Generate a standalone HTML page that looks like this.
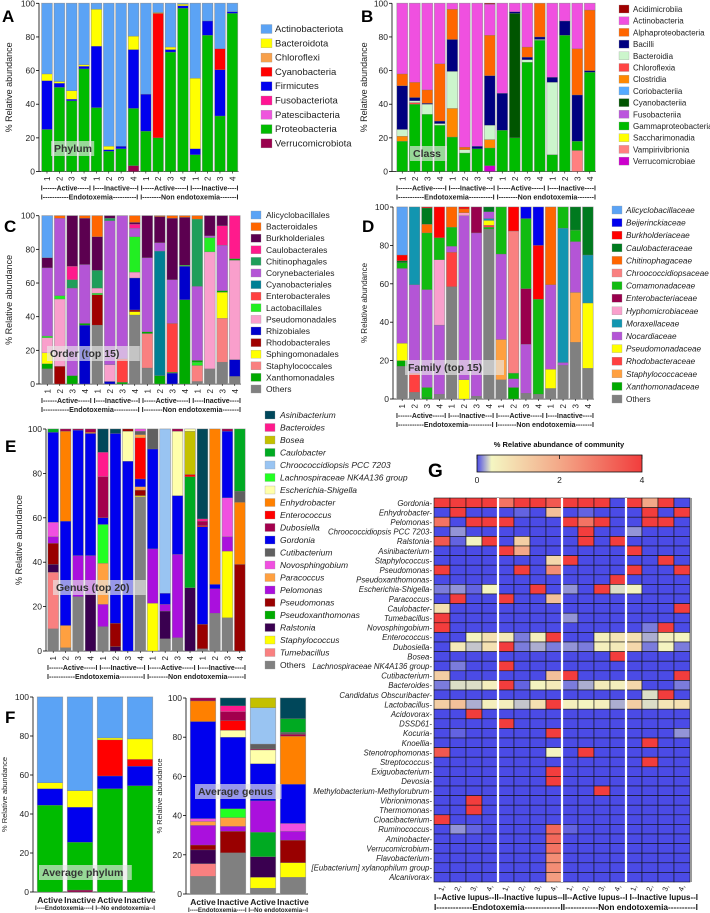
<!DOCTYPE html>
<html><head><meta charset="utf-8"><style>
html,body{margin:0;padding:0;background:#fff;}
svg{display:block;font-family:"Liberation Sans",Arial,sans-serif;}
</style></head><body>
<svg id="fig" width="710" height="913" viewBox="0 0 710 913" xmlns="http://www.w3.org/2000/svg"></svg>
<script>
// ---------- DATA ----------
const phylumNames=["Actinobacteriota","Bacteroidota","Chloroflexi","Cyanobacteria","Firmicutes","Fusobacteriota","Patescibacteria","Proteobacteria","Verrucomicrobiota"];
const phylumColors=["#5ba3f5","#ffff00","#f7a04b","#ff0000","#0000ee","#ff1493","#ee55dd","#00bb00","#99004d"];
const phylumBars=[
[[7,25],[4,29],[1,4],[0,42]],[[7,50],[4,2.5],[1,1],[0,46.5]],[[7,42],[4,1],[1,5],[0,52]],[[7,61],[4,1.5],[1,1],[0,36.5]],
[[7,38],[4,36.5],[1,22],[0,3.5]],[[7,12],[4,1],[1,2],[0,85]],[[7,13.5],[4,1.5],[0,85]],[[8,3.5],[7,34],[4,35],[1,8],[0,19.5]],
[[7,24],[4,22],[0,54]],[[7,20],[3,74],[1,0.5],[0,5.5]],[[7,71],[4,1.5],[1,1.5],[0,26]],[[7,97],[4,1.5],[1,1],[0,0.5]],
[[7,10],[4,3.5],[1,42],[0,44.5]],[[7,81],[4,8.5],[0,10.5]],[[7,33],[4,27.5],[3,12.5],[0,27]],[[7,94],[4,1],[0,5]]];
const classNames=["Acidimicrobiia","Actinobacteria","Alphaproteobacteria","Bacilli","Bacteroidia","Chloroflexia","Clostridia","Coriobacteriia","Cyanobacteriia","Fusobacteriia","Gammaproteobacteria","Saccharimonadia","Vampirivibrionia","Verrucomicrobiae"];
const classColors=["#a00000","#f050e0","#ff6600","#000080","#ccf5cc","#ff4444","#ff8800","#55aaff","#005500","#bb55dd","#00bb00","#ffff00","#ff8080","#cc00cc"];
const classBars=[
[[10,18],[6,3],[4,4],[3,26],[2,7],[1,42]],[[10,40],[5,1],[4,1],[3,2],[2,9],[1,47]],[[10,34],[4,6],[3,0.5],[2,8],[1,51.5]],[[10,27.5],[4,1],[3,1.5],[2,34],[1,36]],
[[10,20.5],[6,17],[4,22],[3,19],[2,18],[1,3.5]],[[10,11],[4,2],[2,1.5],[1,85.5]],[[10,13.5],[3,1.5],[1,85]],[[13,3.5],[10,10.5],[6,5],[4,8.5],[3,29.5],[2,24],[1,18.5],[0,0.5]],
[[10,24.5],[3,22],[1,53.5]],[[10,20],[8,74],[3,1],[1,5]],[[10,65],[4,1.5],[3,1.5],[2,6],[1,26]],[[10,78],[4,0.5],[3,1.5],[2,20]],
[[10,10],[4,43],[3,3],[1,44]],[[10,81],[3,8.5],[1,10.5]],[[12,12.5],[10,5.5],[3,27.5],[2,27.5],[1,27]],[[10,59],[3,1],[2,36],[1,4]]];
const orderNames=["Alicyclobacillales","Bacteroidales","Burkholderiales","Caulobacterales","Chitinophagales","Corynebacteriales","Cyanobacteriales","Enterobacterales","Lactobacillales","Pseudomonadales","Rhizobiales","Rhodobacterales","Sphingomonadales","Staphylococcales","Xanthomonadales","Others"];
const orderColors=["#5ba3f5","#ff6600","#5c0050","#ff1a8c","#1f9e5a","#b455d6","#007f94","#ff4040","#22ee22","#f99fcc","#0000cc","#a00000","#ffff00","#f98080","#00aa00","#808080"];
const orderBars=[
[[15,9],[14,3],[12,6.5],[9,9],[8,1],[5,40.5],[2,6],[0,25]],[[11,10.5],[9,40],[8,2],[5,46],[1,1.5]],[[14,5],[5,52],[4,5],[3,8],[2,30]],[[10,35],[14,1],[5,35],[2,27.5],[1,1.5]],
[[15,35],[11,18],[8,1],[9,3],[4,10.5],[2,20],[1,12.5]],[[10,1.5],[9,10],[5,85.5],[4,1.5],[2,1.5]],[[14,1],[7,14],[5,85]],[[15,41],[12,2],[11,1],[10,19],[9,3.5],[8,21],[5,5],[3,2.5],[2,1],[1,4]],
[[15,9.5],[13,20.5],[14,1],[5,44],[2,25]],[[14,5],[6,74],[5,5],[2,15.5],[1,0.5]],[[10,6.5],[14,0.5],[7,29],[5,26],[2,36.5],[1,1.5]],[[14,50],[10,20],[8,0.5],[2,28.5],[1,1]],
[[15,1.5],[13,9.5],[8,2],[14,1],[5,44],[4,40],[1,2]],[[15,9],[9,69.5],[8,8.5],[5,1],[2,12]],[[15,13],[13,26],[12,15.5],[14,1],[5,27],[3,11.5],[2,6]],[[15,4.5],[10,10],[9,59],[14,1],[3,25.5]]];
const familyNames=["Alicyclobacillaceae","Beijerinckiaceae","Burkholderiaceae","Caulobacteraceae","Chitinophagaceae","Chroococcidiopsaceae","Comamonadaceae","Enterobacteriaceae","Hyphomicrobiaceae","Moraxellaceae","Nocardiaceae","Pseudomonadaceae","Rhodobacteraceae","Staphylococcaceae","Xanthomonadaceae","Others"];
const familyColors=["#5ba3f5","#0000ee","#ff0000","#007a1f","#ff6600","#f98080","#11bb11","#99004d","#f99fcc","#1295b0","#b455d6","#ffff00","#ff4040","#ffa040","#00aa00","#808080"];
const familyBars=[
[[15,17],[14,3],[11,9],[10,39],[6,3],[3,1],[2,3],[0,25]],[[15,3.5],[12,10],[10,46],[9,40.5]],[[14,1],[6,5],[10,51],[6,29.5],[4,4.5],[3,8.5],[2,0.5]],[[15,2.5],[10,36],[8,34],[6,11.5],[2,16]],
[[15,58.5],[12,18],[10,3],[6,10],[4,10.5]],[[11,10],[10,85.5],[8,1.5],[4,2],[2,1]],[[15,1.5],[10,85],[7,13.5]],[[15,88.5],[6,1],[12,1],[11,2.5],[9,1],[10,3.5],[3,2.5]],
[[15,10],[13,21],[10,44.5],[6,24.5]],[[14,6],[10,4.5],[6,3],[5,74],[2,12.5]],[[15,3],[10,25.5],[7,29],[6,36.5],[1,6]],[[15,2.5],[6,49.5],[2,28],[1,20]],
[[15,5.5],[11,10],[10,44],[4,40.5]],[[15,17.5],[10,1.5],[9,70],[6,11]],[[15,29.5],[13,26],[10,26.5],[6,6],[3,12]],[[15,16],[11,34],[9,25],[3,25]]];
const genusNames=["Asinibacterium","Bacteroides","Bosea","Caulobacter","Chroococcidiopsis PCC 7203","Lachnospiraceae NK4A136 group","Escherichia-Shigella","Enhydrobacter","Enterococcus","Dubosiella","Gordonia","Cutibacterium","Novosphingobium","Paracoccus","Pelomonas","Pseudomonas","Pseudoxanthomonas","Ralstonia","Staphylococcus","Tumebacillus","Others"];
const genusColors=["#00475a","#ff1a8c","#c4c000","#00aa22","#99c4f2","#22ff22","#ffffaa","#ff8000","#ff0000","#a3004d","#0000ee","#606060","#f050e0","#ffa040","#aa10dd","#990000","#00aa00","#3a0050","#ffff00","#f98080","#808080"];
const genusBars=[
[[20,10],[19,25.5],[17,3.5],[15,9.5],[14,3],[12,6.5],[10,40.5],[3,1.5]],[[20,1.5],[13,10],[10,47],[7,40.5],[9,1]],[[20,24.5],[14,18.5],[10,56.5],[9,0.5]],[[17,25.5],[14,17.5],[10,55],[7,0.5],[9,1.5]],
[[20,11],[14,10],[13,18.5],[5,17.5],[10,3],[9,18.5],[1,11],[0,10.5]],[[17,2],[15,10.5],[10,85.5],[0,2]],[[10,85.5],[6,13.5],[15,1]],[[20,69.5],[18,0.5],[15,2.5],[13,1.5],[10,3.5],[8,18.5],[13,1.5],[11,1.5],[12,1]],
[[18,21.5],[14,24.5],[10,45],[11,9]],[[20,5.5],[17,12.5],[14,3],[10,5],[4,74]],[[20,6],[14,37.5],[10,26.5],[6,29],[9,1]],[[17,28.5],[3,50],[8,1],[2,19.5],[6,1]],
[[20,1],[15,11],[10,44],[8,0.5],[9,2],[1,1],[0,40.5]],[[20,17],[14,11],[10,2],[7,70]],[[20,15],[18,30],[14,6.5],[12,17.5],[10,30],[9,1]],[[15,39],[7,28],[11,5],[3,28]]];
const avgPhylumBars=[[[7,44.5],[4,8.5],[1,3],[0,44]],[[8,1],[7,24.5],[4,18],[1,8.5],[0,48]],[[7,53],[4,6.5],[3,18.5],[1,1],[0,21]],[[7,54.5],[4,10],[3,3.5],[1,10.5],[0,21.5]]];
const avgGenusBars=[
[[20,9],[19,6.5],[17,7],[15,2.5],[14,10],[13,2],[12,1.5],[10,49.5],[7,10.5],[9,1.5]],
[[20,21],[15,11],[14,2.5],[13,4.5],[5,4.5],[10,36.5],[6,3.5],[8,5],[9,4.5],[1,3],[0,4]],
[[20,3],[18,5.5],[17,10.5],[3,12.5],[14,16],[10,19],[6,7],[9,0.5],[11,2.5],[4,18.5],[2,5]],
[[20,8.5],[18,7.5],[15,11.5],[14,4.5],[12,4],[10,20],[7,24.5],[9,1],[11,1],[3,7],[0,10.5]]];
const tickLabels=[0,20,40,60,80,100];
const hmRows=["Gordonia","Enhydrobacter","Pelomonas","Chroococcidiopsis PCC 7203","Ralstonia","Asinibacterium","Staphylococcus","Pseudomonas","Pseudoxanthomonas","Escherichia-Shigella","Paracoccus","Caulobacter","Tumebacillus","Novosphingobium","Enterococcus","Dubosiella","Bosea","Lachnospiraceae NK4A136 group","Cutibacterium","Bacteroides","Candidatus Obscuribacter","Lactobacillus","Acidovorax","DSSD61","Kocuria","Knoellia","Stenotrophomonas","Streptococcus","Exiguobacterium","Devosia","Methylobacterium-Methylorubrum","Vibrionimonas","Thermomonas","Cloacibacterium","Ruminococcus","Aminobacter","Verrucomicrobium","Flavobacterium","[Eubacterium] xylanophilum group","Alcanivorax"];
const hmValues=[
[4,4,4,4,3,4,4,3.5,4,4,4,0,4,2,4,0],
[0,4,0,0,0,0.05,0,1.5,0,0.05,0,0,0,4,0,4],
[3,0,4,4,4,0,0,0,4,3,4,0,0,4,4,0],
[0,0.15,0,0,0,0,0,0,0,4,0,0,0.15,0,0,0],
[3.5,0.05,0.4,4,0,1.2,0,0,0,4,0,4,0,0,0,0],
[0,0,0,0,4,2,0,0,0,0,0,0,4,0,0,0],
[0,0,0,0,0,0,0,1,4,0,0,0,0,0,4,0],
[4,0,0,0,0,4,0,2.5,0,0,0,0,4,0,0,4],
[0,0,0,0,0,0,0,0,0,0,0,4,0,0,0,0],
[0.1,0.15,0.05,0.4,0,0,4,0,0.15,0,4,0.3,0.4,0,0,0],
[0,4,0,0,4,0,0,1.5,0,0,0,0,0,0,0,0],
[0.8,0,0,0,0,0,0,0,0,0,0,0,0,0,0,4],
[4,0,0,0,0,0,0,0,0.15,0,0,0,0,0,0,0],
[4,0,0,0,0,0,0,0,0,0,0,0,0,0.1,4,0],
[0,0,0.4,0.8,0.6,0.1,0.5,4,0,0,0.5,0.7,0.8,0.2,0.5,0.4],
[0,0.6,0.25,0.8,4,0.1,0.2,0.1,0.15,0.1,0.5,0.6,1,0.1,0.4,0.1],
[0,0,0,0,0,0,0,0,0,0,0,4,0,0,0,0],
[0,0.1,0,0,4,0,0,0,0,0,0,0,0,0,0,0],
[1.2,0,0,0,0,0,0,1.5,4,0,0,0,0,0,0,4],
[0.1,0.3,0.3,0.5,4,0.05,0.4,0.6,0.1,0.2,0.6,0.5,1,0,0,0.1],
[0,0,0,0,0,0,0,0,0,0,0,0,0,0.3,4,0],
[1.2,1.5,0.2,0.5,0.5,0.25,0.8,4,0.5,0.4,0.5,0.2,1.2,0.3,0.7,0.8],
[0,0,4,0,0,0,0,0,0,0,0,0,0,0,0,0],
[0,0,0,0,4,0,0,0,0,0,0,0,0,0,0,0],
[0,0.05,0,0,0,0,0,4,0,0,0,0,0,0,0,0.15],
[0,0,0,0,0,0,0,0,0,0,0,0,0,4,0,0],
[3.5,0,0,0,0,0,0,0.4,0,4,0,0,0,0,0,0],
[0,0,0,0,0,0,0,0,0,0,0,0,0,4,0,0],
[0,0,0,0,0,0,0,4,0,0,0,0,0,0,0,0],
[0,0,0,0,0,0,0,4,0,0,0,0,0,0,0,0],
[0,0,0,0,0,0,0,0,0,0,4,0,0,0,0,0],
[0,0,4,0,0,0,0,0,0,0,0,0,0,0,0,0],
[0,0,4,0,0,0,0,0,0,0,0,0,0,0,0,0],
[4,0,0,0,0,0,0,0,0,0,0,0,0,0,0,0],
[0,0.15,0.05,0,0,0,0,3.2,0.05,0,0,0,0,0,0,0],
[0,0,0,0,0,0,0,3.2,0,0,0,0,0,0,0,0],
[0,0,0,0,0,0,0,3,0,0,0,0,0,0,0,0],
[0,0,0,0,0,0,0,2.5,0,0,0,0,0,0,0,0],
[0,0,0,0,0,0,0,2.5,0,0,0,0,0,0,0,0],
[0,0,0,0,0,0,0,2.2,0,0,0,0,0,0,0,0]];
const hmColLabels=["1,","2,","3,","4,","1,","2,","3,","4,","1,","2,","3,","4,","1,","2,","3,","4,"];
const cbTicks=[0,2,4];

// ---------- DRAW ----------
const NS="http://www.w3.org/2000/svg";
const svg=document.getElementById('fig');
function el(tag,attrs,parent,txt){const e=document.createElementNS(NS,tag);for(const k in attrs)e.setAttribute(k,attrs[k]);if(txt!==undefined)e.textContent=txt;(parent||svg).appendChild(e);return e;}

function panel(cfg){
  const g=el('g',{});
  
  
  const ys=v=>cfg.yb-(cfg.yb-cfg.yt)*v/100;
  const n=cfg.bars.length, pitch=(cfg.x1-cfg.x0)/n, bw=pitch*cfg.bwf;
  const xs=i=>cfg.x0+i*pitch+(pitch-bw)/2;
  const ax=el('line',{x1:cfg.ax,x2:cfg.ax,y1:cfg.yt,y2:cfg.yb,stroke:'#000','stroke-width':0.8},g);
  
  el('line',{x1:cfg.ax,x2:cfg.x1,y1:cfg.yb,y2:cfg.yb,stroke:'#000','stroke-width':0.8},g);
  tickLabels.forEach(t=>{
    el('line',{x1:cfg.ax-3,x2:cfg.ax,y1:ys(t),y2:ys(t),stroke:'#000','stroke-width':0.8},g);
    const tl=el('text',{x:cfg.ax-4,y:ys(t)+3,'text-anchor':'end','font-size':8.5,fill:'#222'},g,String(t));
    
  });
  const yt=el('text',{transform:`translate(${cfg.titleX},${(cfg.yt+cfg.yb)/2}) rotate(-90)`,'text-anchor':'middle','font-size':cfg.titleSize||9,fill:'#222'},g,'% Relative abundance');
  
  cfg.bars.forEach((bar,i)=>{
    let acc=0;
    el('rect',{x:xs(i)-0.6,y:cfg.yt-0.6,width:bw+1.2,height:cfg.yb-cfg.yt+0.6,fill:'#d9d9d9'},g);
    bar.forEach(([s,v])=>{
      const r=el('rect',{x:xs(i),y:ys(acc+v),width:bw,height:ys(acc)-ys(acc+v),fill:cfg.colors[s],stroke:'#777','stroke-width':0.3},g);
      
      
      acc+=v;
    });
  });
  if(cfg.xlabels){
    cfg.bars.forEach((b,i)=>{
      el('text',{transform:`translate(${xs(i)+bw/2+3},${cfg.yb+5}) rotate(-90)`,'text-anchor':'end','font-size':8,fill:'#222'},g,String(i%4+1));
      el('line',{x1:xs(i)+bw/2,x2:xs(i)+bw/2,y1:cfg.yb,y2:cfg.yb+2,stroke:'#000','stroke-width':0.6},g);
    });
    el('text',{x:cfg.x0,y:cfg.yb+19,'font-size':7,'font-weight':'bold',textLength:cfg.x1-cfg.x0,lengthAdjust:'spacingAndGlyphs',fill:'#222'},g,'I------Active-----I I----Inactive---I I-----Active-----I I----Inactive----I');
    el('text',{x:cfg.x0,y:cfg.yb+28,'font-size':7,'font-weight':'bold',textLength:cfg.x1-cfg.x0,lengthAdjust:'spacingAndGlyphs',fill:'#222'},g,'I-----------Endotoxemia----------I I--------Non endotoxemia-------I');
  }
  if(cfg.catLabels){
    cfg.catLabels.forEach((c,i)=>{el('text',{x:xs(i)+bw/2,y:cfg.yb+11,'text-anchor':'middle','font-size':8.5,'font-weight':'bold',fill:'#222'},g,c);});
    el('text',{x:cfg.x0,y:cfg.yb+18,'font-size':6,'font-weight':'bold',textLength:cfg.x1-cfg.x0,lengthAdjust:'spacingAndGlyphs',fill:'#222'},g,'I----Endotoxemia----I I--No endotoxemia--I');
  }
  if(cfg.legend){
    const L=cfg.legend;
    L.names.forEach((nm,i)=>{
      const y=L.y+i*L.dy;
      const lg=el('g',{},g);
      
      el('rect',{x:L.x,y:y-L.sq/2-2,width:L.sq+2,height:L.sq,fill:cfg.colors[i],stroke:'#999','stroke-width':0.3},lg);
      el('text',{x:L.tx,y:y+1,'font-size':L.fs,'font-style':(L.italic&&nm!=='Others')?'italic':'normal',fill:'#222'},lg,nm);
    });
  }
  if(cfg.inset){
    const [tx,ty,txt]=cfg.inset;
    const w=txt.length*6.2+6;
    el('rect',{x:tx-3,y:ty-11,width:w,height:15,fill:'#e8e8e8','fill-opacity':0.65},g);
    const t=el('text',{x:tx,y:ty,'font-size':10.5,'font-weight':'bold',fill:'#333'},g,txt);
    
  }
  if(cfg.letter){
    const pl=el('text',{x:cfg.letter[0],y:cfg.letter[1],'font-size':17,'font-weight':'bold',fill:'#000'},g,cfg.letter[2]);
    
  }
}

panel({name:'panel-a-phylum',bars:phylumBars,colors:phylumColors,x0:40.8,x1:238.5,bwf:0.85,yt:3.3,yb:171.5,ax:39,titleX:12,xlabels:true,
  legend:{names:phylumNames,x:261,tx:275,y:31,dy:14.3,sq:9,fs:9.5},inset:[54,152,'Phylum'],letter:[2,22,'A']});
panel({name:'panel-b-class',bars:classBars,colors:classColors,x0:396,x1:596,bwf:0.85,yt:3.3,yb:171.5,ax:392,titleX:367,xlabels:true,
  legend:{names:classNames,x:619,tx:633,y:11,dy:11.7,sq:8,fs:8},inset:[413,157,'Class'],letter:[361,22,'B']});
panel({name:'panel-c-order',bars:orderBars,colors:orderColors,x0:41,x1:241,bwf:0.85,yt:215.7,yb:384,ax:39,titleX:12,xlabels:true,
  legend:{names:orderNames,x:251,tx:266,y:217,dy:11.6,sq:8,fs:8.5},inset:[50,357,'Order (top 15)'],letter:[4,232,'C']});
panel({name:'panel-d-family',bars:familyBars,colors:familyColors,x0:396,x1:594,bwf:0.85,yt:207,yb:399,ax:393,titleX:367,titleSize:8,xlabels:true,
  legend:{names:familyNames,x:612,tx:626,y:212,dy:12.6,sq:8,fs:8.2,italic:true},inset:[408,371,'Family (top 15)'],letter:[362,232,'D']});
panel({name:'panel-e-genus',bars:genusBars,colors:genusColors,x0:47,x1:246,bwf:0.85,yt:429,yb:651,ax:46,titleX:22,xlabels:true,
  legend:{names:genusNames,x:265,tx:280,y:417,dy:12.5,sq:8,fs:8.5,italic:true},inset:[56,591,'Genus (top 20)'],letter:[5,452,'E']});
panel({name:'panel-f-average-phylum',bars:avgPhylumBars,colors:phylumColors,x0:35,x1:155,bwf:0.84,yt:697,yb:892,ax:33,titleX:7,titleSize:7.5,
  catLabels:['Active','Inactive','Active','Inactive'],inset:[42,876,'Average phylum'],letter:[5,723,'F']});
panel({name:'panel-f-average-genus',bars:avgGenusBars,colors:genusColors,x0:188,x1:308,bwf:0.84,yt:698,yb:894,ax:186,titleX:162,titleSize:7.5,
  catLabels:['Active','Inactive','Active','Inactive'],inset:[198,795,'Average genus']});

// ---------- HEATMAP G ----------
function hmColor(v){
  const stops=[[0,[75,75,230]],[0.35,[244,246,194]],[2,[243,168,136]],[4,[242,61,61]]];
  v=Math.max(0,Math.min(4,v));
  for(let i=0;i<stops.length-1;i++){const[a,ca]=stops[i],[b,cb]=stops[i+1];
    if(v<=b){const t=(v-a)/(b-a);return `rgb(${ca.map((c,k)=>Math.round(c+(cb[k]-c)*t)).join(',')})`;}}
  return 'rgb(242,61,61)';
}
const G=el('g',{});
const hx0=434,hx1=690,hy0=498,hy1=882;
const cw=(hx1-hx0)/hmColLabels.length, rh=(hy1-hy0)/hmRows.length;
const colX=j=>hx0+j*cw, rowY=i=>hy0+i*rh;
hmValues.forEach((row,i)=>row.forEach((v,j)=>{
  const c=el('rect',{x:colX(j),y:rowY(i),width:cw,height:rh,fill:hmColor(v),stroke:'#111','stroke-width':0.6},G);
  
  
}));
[4,8,12].forEach(j=>el('line',{x1:colX(j),x2:colX(j),y1:hy0,y2:hy1,stroke:'#fff','stroke-width':2.2},G));
el('rect',{x:hx1,y:hy0,width:2,height:hy1-hy0,fill:'#999'},G);
hmRows.forEach((r,i)=>{
  const t=el('text',{x:hx0-2,y:rowY(i)+rh/2+3,'text-anchor':'end','font-size':7.8,'font-style':'italic',fill:'#222'},G,r+'-');
  
});
hmColLabels.forEach((c,j)=>{
  el('text',{transform:`translate(${colX(j)+cw/2+3},${hy1+4}) rotate(-70)`,'text-anchor':'end','font-size':7.5,fill:'#222'},G,c);
});
el('text',{x:hx0,y:900,'font-size':8.5,'font-weight':'bold',textLength:264,lengthAdjust:'spacingAndGlyphs',fill:'#111'},G,'I--Active lupus--II--Inactive lupus--II--Active lupus--I I--Inactive lupus--I');
el('text',{x:hx0,y:910,'font-size':8,'font-weight':'bold',textLength:264,lengthAdjust:'spacingAndGlyphs',fill:'#111'},G,'I-------------Endotoxemia-------------II------------Non endotoxemia----------I');
const defs=el('defs',{});
const lgd=el('linearGradient',{id:'cb',x1:0,x2:1,y1:0,y2:0},defs);
[[0,0],[0.35,0.0875],[2,0.5],[4,1]].forEach(([v,o])=>el('stop',{offset:o,'stop-color':hmColor(v)},lgd));
const cbx0=477,cbx1=642;
const cb=el('rect',{x:cbx0,y:455,width:cbx1-cbx0,height:17,fill:'url(#cb)',stroke:'#111','stroke-width':0.8},G);

cbTicks.forEach(t=>{const x=cbx0+(cbx1-cbx0)*t/4;
  el('line',{x1:x,x2:x,y1:455,y2:459,stroke:'#111','stroke-width':0.8},G);
  el('text',{x:x,y:483,'text-anchor':'middle','font-size':8.5,fill:'#222'},G,String(t));});
const ct=el('text',{x:559,y:447,'text-anchor':'middle','font-size':7.5,'font-weight':'bold',fill:'#111'},G,'% Relative abundance of community');

const gl=el('text',{x:428,y:477,'font-size':19,'font-weight':'bold',fill:'#000'},G,'G');

</script>
</body></html>
